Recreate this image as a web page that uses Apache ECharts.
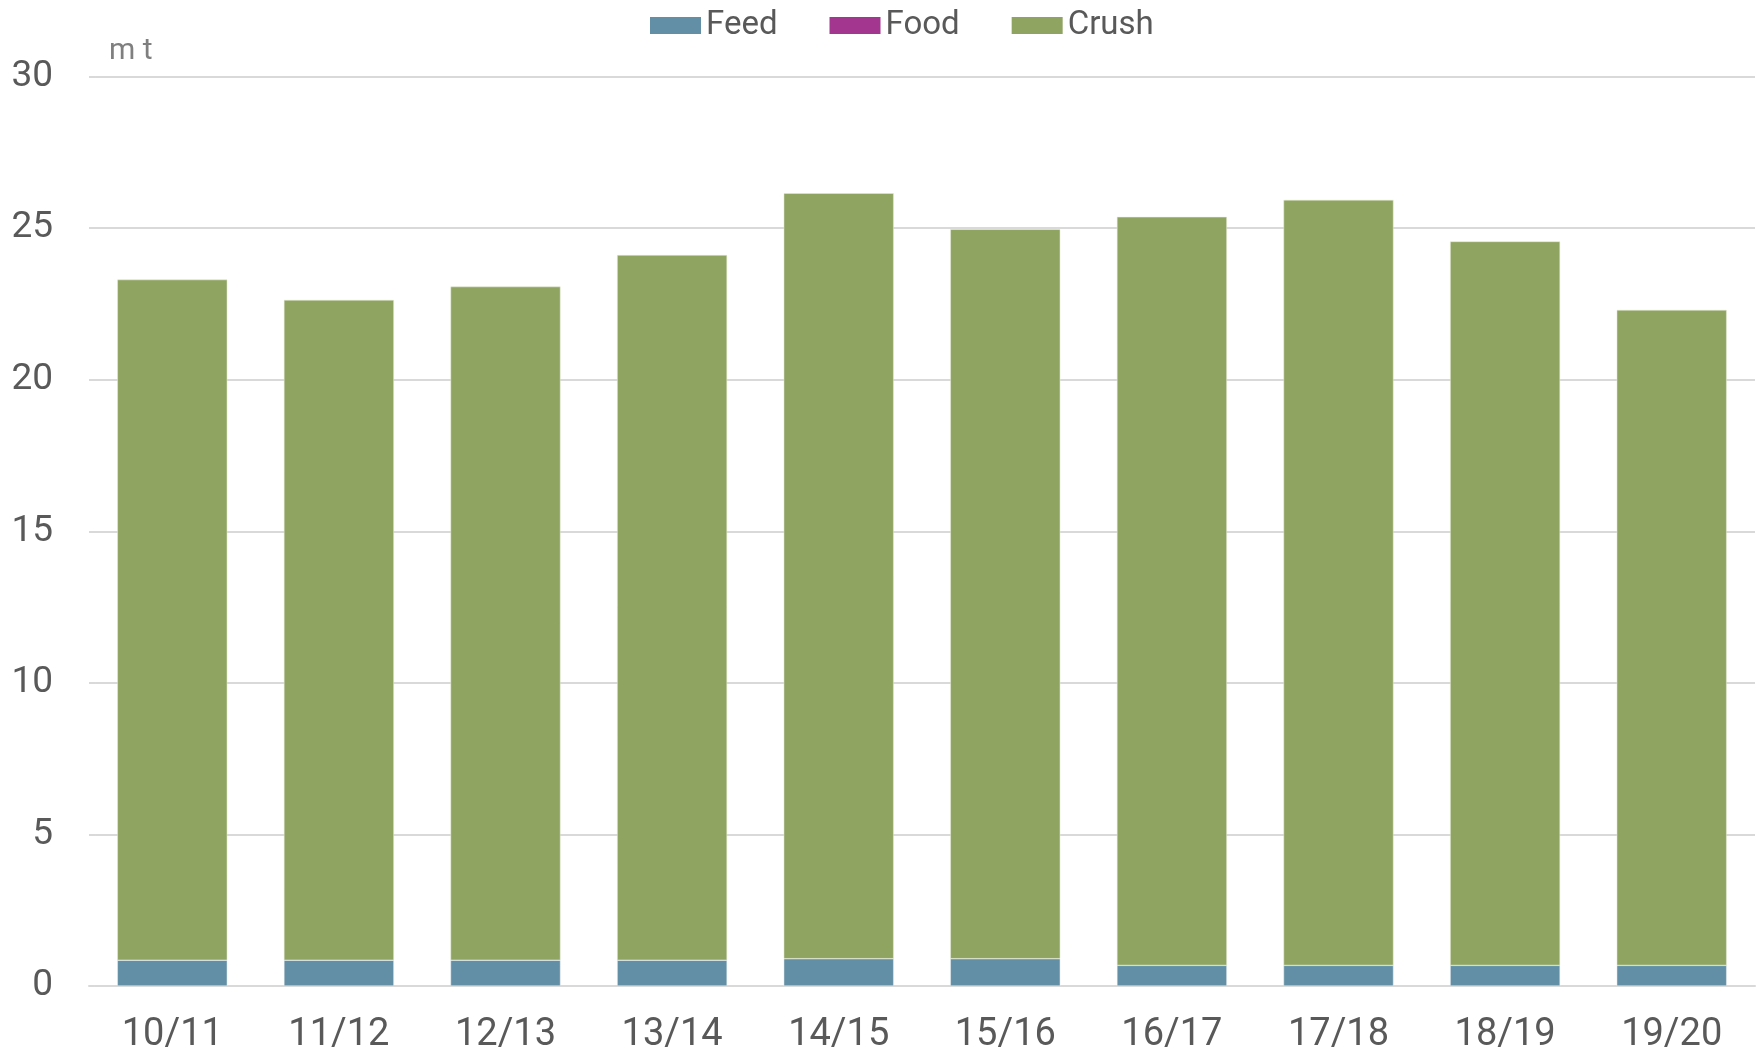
<!DOCTYPE html>
<html>
<head>
<meta charset="utf-8">
<script src="https://cdn.jsdelivr.net/npm/echarts@6/dist/echarts.min.js"></script>
<style>
  html, body { margin: 0; padding: 0; background: #fff; }
  #chart { width: 1764px; height: 1054px; }
</style>
</head>
<body>
<div id="chart"></div>
<script>
// marketing years
var years = ['10/11', '11/12', '12/13', '13/14', '14/15', '15/16', '16/17', '17/18', '18/19', '19/20'];
// million tonnes
var feed = [0.85, 0.85, 0.85, 0.85, 0.9, 0.9, 0.68, 0.68, 0.68, 0.68];
var food = [0, 0, 0, 0, 0, 0, 0, 0, 0, 0];
var crush = [22.45, 21.78, 22.22, 23.26, 25.25, 24.06, 24.69, 25.25, 23.88, 21.62];
var yTicks = [0, 5, 10, 15, 20, 25, 30];

var chart = echarts.init(document.getElementById('chart'));
var font = 'Roboto, "Liberation Sans", sans-serif';

chart.setOption({
  animation: false,
  textStyle: {fontFamily: font},
  title: {
    text: 'm t',
    left: 104,
    top: 31,
    textStyle: {fontFamily: font, fontSize: 30, fontWeight: 'normal', color: '#7f7f7f'}
  },
  legend: {
    top: 4,
    left: 645,
    itemWidth: 51,
    itemHeight: 17,
    itemGap: 52,
    icon: 'rect',
    itemStyle: {borderWidth: 0},
    textStyle: {fontFamily: font, fontSize: 33, color: '#595959', padding: [0, 0, 0, 0]},
    data: ['Feed', 'Food', 'Crush']
  },
  grid: {left: 89, right: 9, top: 76.5, bottom: 64},
  xAxis: {
    type: 'category',
    data: years,
    axisLine: {lineStyle: {color: '#d9d9d9', width: 2}},
    axisTick: {show: false},
    axisLabel: {fontSize: 38, color: '#595959', margin: 30}
  },
  yAxis: {
    type: 'value',
    min: yTicks[0],
    max: yTicks[yTicks.length - 1],
    interval: 5,
    axisLine: {show: false},
    axisTick: {show: false},
    axisLabel: {fontSize: 37, color: '#595959', margin: 36},
    splitLine: {lineStyle: {color: '#d9d9d9', width: 2}}
  },
  series: [
    {
      name: 'Feed', type: 'bar', stack: 'use', data: feed,
      barCategoryGap: '34%',
      itemStyle: {color: '#628fa5', borderColor: '#e8eef0', borderWidth: 0.5}
    },
    {
      name: 'Food', type: 'bar', stack: 'use', data: food,
      itemStyle: {color: '#a3378f'}
    },
    {
      name: 'Crush', type: 'bar', stack: 'use', data: crush,
      itemStyle: {color: '#90a462', borderColor: '#e6ecd8', borderWidth: 0.5}
    }
  ]
});
</script>
</body>
</html>
